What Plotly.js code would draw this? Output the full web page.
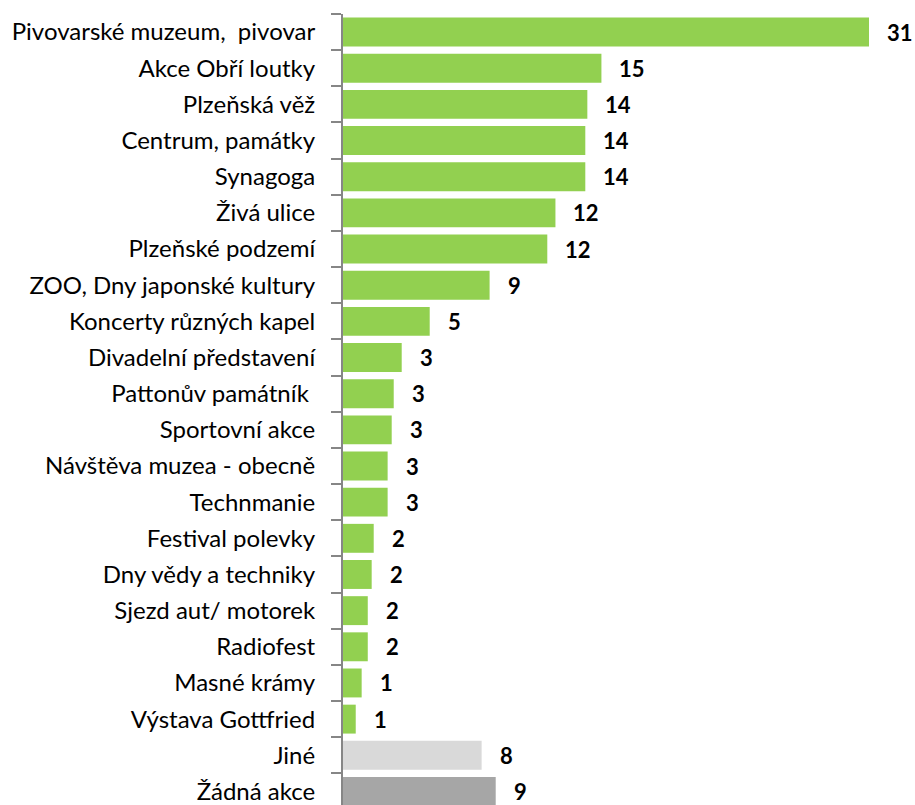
<!DOCTYPE html>
<html>
<head>
<meta charset="utf-8">
<script src="https://cdn.plot.ly/plotly-3.0.1.min.js"></script>
<style>html,body{margin:0;padding:0;background:#fff;}#chart{width:915px;height:805px;}</style>
</head>
<body>
<div id="chart"></div>
<script>
const categories = [
  "Pivovarské muzeum,\u00A0 pivovar",
  "Akce Obří loutky",
  "Plzeňská věž",
  "Centrum, památky",
  "Synagoga",
  "Živá ulice",
  "Plzeňské podzemí",
  "ZOO, Dny japonské kultury",
  "Koncerty různých kapel",
  "Divadelní představení",
  "Pattonův památník\u00A0",
  "Sportovní akce",
  "Návštěva muzea - obecně",
  "Technmanie",
  "Festival polevky",
  "Dny vědy a techniky",
  "Sjezd aut/ motorek",
  "Radiofest",
  "Masné krámy",
  "Výstava Gottfried",
  "Jiné",
  "Žádná akce"
];
const values = [31, 15.23, 14.4, 14.28, 14.28, 12.52, 12.04, 8.64, 5.11, 3.46, 2.99, 2.87, 2.63, 2.63, 1.81, 1.69, 1.46, 1.46, 1.1, 0.75, 8.17, 9.0];
const valueLabels = ["31", "15", "14", "14", "14", "12", "12", "9", "5", "3", "3", "3", "3", "3", "2", "2", "2", "2", "1", "1", "8", "9"];
const groups = ["akce","akce","akce","akce","akce","akce","akce","akce","akce","akce","akce","akce","akce","akce","akce","akce","akce","akce","akce","akce","jine","zadna"];
const groupColors = {akce: "#92D050", jine: "#D9D9D9", zadna: "#A6A6A6"};

const trace = {
  type: "bar",
  orientation: "h",
  x: values,
  y: categories,
  marker: {color: groups.map(g => groupColors[g]), line: {width: 0}},
  hoverinfo: "skip"
};

const annotations = categories.map((c, i) => ({
  x: values[i], y: c, xref: "x", yref: "y",
  text: valueLabels[i], showarrow: false,
  xanchor: "left", yanchor: "middle", xshift: 16,
  font: {family: "Lato, 'Open Sans', sans-serif", size: 22, color: "#000", weight: "bold"}
}));

const layout = {
  width: 915, height: 805,
  margin: {l: 343, r: 46, t: 14, b: 0, pad: 0},
  paper_bgcolor: "#fff", plot_bgcolor: "#fff",
  showlegend: false,
  bargap: 0.2,
  font: {family: "Lato, 'Open Sans', sans-serif", color: "#000"},
  xaxis: {range: [0, 31], visible: false, showgrid: false, zeroline: false, fixedrange: true},
  yaxis: {
    type: "category",
    categoryorder: "array", categoryarray: categories,
    range: [21.375, -0.5],
    showline: true, linecolor: "#868686", linewidth: 2,
    ticks: "outside", tickson: "boundaries", ticklen: 10, tickwidth: 2, tickcolor: "#868686",
    ticklabelstandoff: 21,
    tickfont: {family: "Lato, 'Open Sans', sans-serif", size: 24, color: "#000"},
    showgrid: false, zeroline: false, fixedrange: true
  },
  annotations: annotations
};

Plotly.newPlot("chart", [trace], layout, {staticPlot: true, displayModeBar: false});
</script>
</body>
</html>
